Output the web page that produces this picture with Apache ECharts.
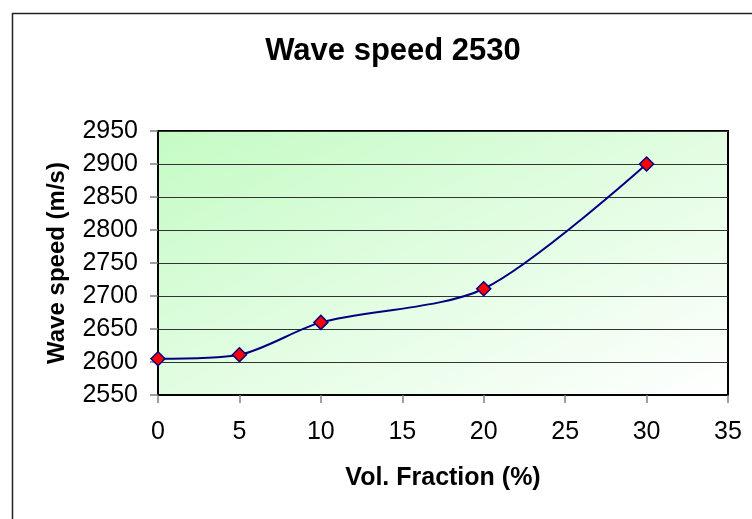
<!DOCTYPE html>
<html>
<head>
<meta charset="utf-8">
<title>Wave speed 2530</title>
<script src="https://cdn.jsdelivr.net/npm/echarts@6/dist/echarts.min.js"></script>
<style>
  html, body { margin: 0; padding: 0; background: #ffffff; }
  #chart { width: 752px; height: 519px; }
</style>
</head>
<body>
<div id="chart"></div>
<script>
// Volume fraction (%) and measured wave speed (m/s)
const volFraction = [0, 5, 10, 20, 30];
const waveSpeed = [2605, 2611, 2660, 2711, 2900];

// Axis ranges
const xRange = { min: 0, max: 35, step: 5 };
const yRange = { min: 2550, max: 2950, step: 50 };

const titleText = 'Wave speed 2530';
const xName = 'Vol. Fraction (%)';
const yName = 'Wave speed (m/s)';

const FONT = "'Liberation Sans', Arial, sans-serif";

// Plot box in pixels
const plot = { left: 158, top: 131, right: 728, bottom: 395 };
const pw = plot.right - plot.left;
const ph = plot.bottom - plot.top;
// Gradient axis runs so that the colour bands lie parallel to the
// bottom-left -> top-right diagonal of the plot box.
const k = (2 * pw * ph) / (pw * pw + ph * ph);
const gradEnd = { x: plot.left + ph * k, y: plot.top + pw * k };

const chart = echarts.init(document.getElementById('chart'), null, { renderer: 'canvas' });

chart.setOption({
  backgroundColor: '#ffffff',
  animation: false,
  graphic: [{
    type: 'rect',
    left: 10, top: 11,
    shape: { width: 760, height: 530 },
    style: { fill: 'none', stroke: '#222222', lineWidth: 1.5 },
    silent: true,
    z: 0
  }],
  title: {
    text: titleText,
    left: 388,
    top: 31,
    textAlign: 'center',
    textStyle: { fontFamily: FONT, fontSize: 31, fontWeight: 'bold', color: '#000000' }
  },
  grid: {
    left: plot.left, top: plot.top, right: 752 - plot.right, bottom: 519 - plot.bottom,
    show: true,
    borderColor: '#000000',
    borderWidth: 2,
    // green at the top-left corner fading to white at the bottom-right
    backgroundColor: new echarts.graphic.LinearGradient(
      plot.left, plot.top, gradEnd.x, gradEnd.y, [
        { offset: 0, color: '#c4fbc4' },
        { offset: 1, color: '#ffffff' }
      ], true)
  },
  xAxis: {
    type: 'value',
    min: xRange.min, max: xRange.max, interval: xRange.step,
    name: xName,
    nameLocation: 'middle',
    nameGap: 71,
    nameTextStyle: { fontFamily: FONT, fontSize: 25, fontWeight: 'bold', color: '#000000' },
    axisLine: { show: true, onZero: false, lineStyle: { color: '#000000', width: 2 } },
    axisTick: { show: true, inside: false, length: 8, lineStyle: { color: '#808080', width: 1.5 } },
    axisLabel: { margin: 25, fontFamily: FONT, fontSize: 25, color: '#000000',
                 formatter: v => String(v) },
    splitLine: { show: false }
  },
  yAxis: {
    type: 'value',
    min: yRange.min, max: yRange.max, interval: yRange.step,
    name: yName,
    nameLocation: 'middle',
    nameGap: 89,
    nameTextStyle: { fontFamily: FONT, fontSize: 24, fontWeight: 'bold', color: '#000000' },
    axisLine: { show: true, onZero: false, lineStyle: { color: '#000000', width: 2 } },
    axisTick: { show: true, inside: false, length: 8, lineStyle: { color: '#808080', width: 1.5 } },
    axisLabel: { margin: 20, fontFamily: FONT, fontSize: 25, color: '#000000',
                 formatter: v => String(v) },
    splitLine: { show: true, lineStyle: { color: '#333333', width: 1 } }
  },
  series: [{
    type: 'line',
    data: volFraction.map((v, i) => [v, waveSpeed[i]]),
    smooth: 0.28,
    symbol: 'diamond',
    symbolSize: 14,
    lineStyle: { color: '#000080', width: 2 },
    itemStyle: { color: '#ff0000', borderColor: '#000080', borderWidth: 1.5 },
    z: 3
  }]
});
</script>
</body>
</html>
